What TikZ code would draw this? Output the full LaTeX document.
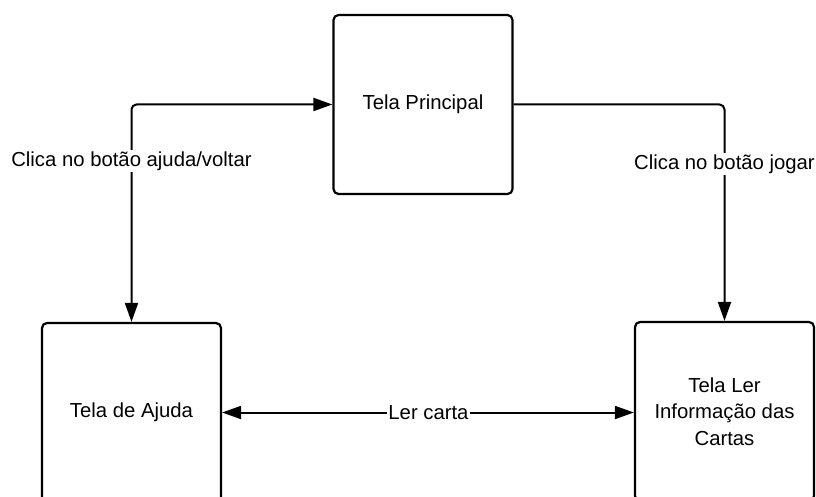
\documentclass[tikz,border=0pt]{standalone}
\usepackage{fontspec}
\setmainfont{Liberation Sans}
\usetikzlibrary{arrows.meta}
\begin{document}
\begin{tikzpicture}[x=1pt,y=-1pt,
  screen/.style={draw, line width=2.2pt, rounded corners=5pt, minimum width=179pt, minimum height=179pt, inner sep=0pt, align=center, font=\fontsize{20.3}{26.5}\selectfont},
  conn/.style={line width=2pt, rounded corners=5pt, >={Triangle[length=19pt,width=13pt]}},
  lbl/.style={fill=white, inner sep=2pt, font=\fontsize{20.3}{24}\selectfont}
]
\useasboundingbox (0,0) rectangle (816,497);
\clip (0,0) rectangle (816,497);
\node[screen] (principal) at (423,104.5) {Tela Principal};
\node[screen] (ajuda) at (131.5,412.5) {Tela de Ajuda};
\node[screen] (ler) at (724.5,411.5) {Tela Ler\\Informação das\\Cartas};
\draw[conn,<->] (ajuda.north) |- (principal.west);
\draw[conn,->] (principal.east) -| (ler.north);
\draw[conn,<->] (ajuda.east) -- (ler.west |- ajuda.east);
\node[lbl] (l1) at (131.5,161) {Clica no botão ajuda/voltar};
\node[lbl] (l2) at (724.5,164) {Clica no botão jogar};
\node[lbl, inner sep=1pt] (l3) at (428.5,412.5) {Ler carta};
\end{tikzpicture}
\end{document}
